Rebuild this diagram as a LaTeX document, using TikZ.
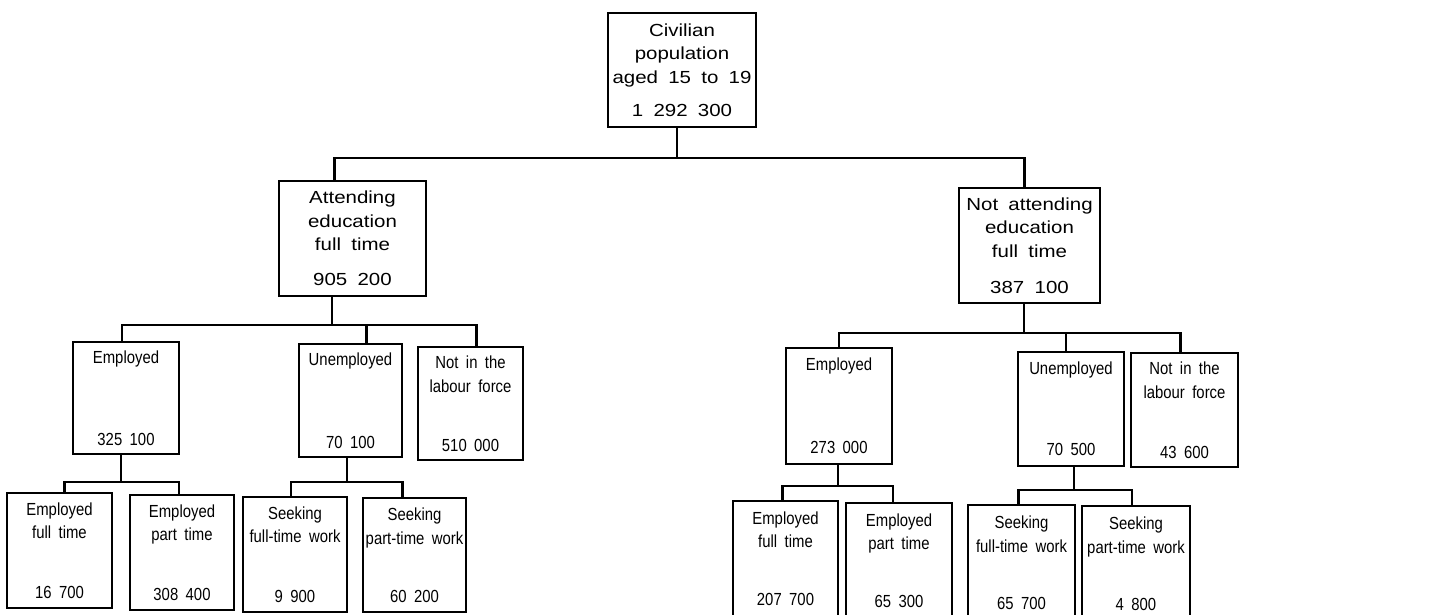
\documentclass[tikz,border=0pt]{standalone}
\usepackage{fontspec}
\usepackage{tikz}
\usetikzlibrary{positioning}
\newfontfamily\smallfont{Liberation Sans}[FakeStretch=0.85,WordSpace=1.8]
\newfontfamily\bigfont{Liberation Sans}[FakeStretch=1.17,WordSpace=1.8]

\begin{document}
\begin{tikzpicture}[x=1pt, y=-1pt,
  box/.style={rectangle, draw=black, line width=1.8pt, align=center,
              minimum width=105pt, minimum height=114pt, inner sep=1pt,
              font=\smallfont\fontsize{17.5}{23.5}\selectfont},
  bbox/.style={box, font=\bigfont\fontsize{17.5}{23.5}\selectfont},
  link/.style={line width=2.2pt}
]
\useasboundingbox[fill=white] (0,0) rectangle (1448,614);

% level 1 and 2
\node[bbox, minimum width=148pt] (pop) at (682,70)
  {Civilian\\population\\aged 15 to 19\\[9.5pt]1 292 300};
\node[bbox, minimum width=147pt, minimum height=115pt] (att) at (352.5,238.5)
  {Attending\\education\\full time\\[11.5pt]905 200};
\node[bbox, minimum width=141pt, minimum height=115pt] (natt) at (1029.5,245.5)
  {Not attending\\education\\full time\\[12.5pt]387 100};

% level 3
\node[box, minimum width=106pt, minimum height=112pt] (emp1) at (126,398)
  {Employed\\[58.5pt]325 100};
\node[box, minimum width=103pt, minimum height=113pt] (unemp1) at (350.5,400.5)
  {Unemployed\\[59.5pt]70 100};
\node[box, minimum height=113pt] (nilf1) at (470.5,403.5)
  {Not in the\\labour force\\[35.5pt]510 000};
\node[box, minimum width=106pt, minimum height=116pt] (emp2) at (839,406)
  {Employed\\[59.5pt]273 000};
\node[box, minimum width=106pt] (unemp2) at (1071,409)
  {Unemployed\\[57.5pt]70 500};
\node[box, minimum width=107pt] (nilf2) at (1184.5,410)
  {Not in the\\labour force\\[36.5pt]43 600};

% level 4
\node[box, minimum height=115pt] (eft1) at (59.5,550.5)
  {Employed\\full time\\[36.5pt]16 700};
\node[box, minimum width=104pt, minimum height=115pt] (ept1) at (182,552.5)
  {Employed\\part time\\[36.5pt]308 400};
\node[box, minimum width=104pt, minimum height=115pt] (sft1) at (295,554.5)
  {Seeking\\full-time work\\[36.5pt]9 900};
\node[box, minimum width=103pt] (spt1) at (414.5,555)
  {Seeking\\part-time work\\[34.5pt]60 200};
\node[box, minimum height=115pt] (eft2) at (785.5,558.5)
  {Employed\\full time\\[34.5pt]207 700};
\node[box, minimum width=106pt, minimum height=115pt] (ept2) at (899,560.5)
  {Employed\\part time\\[34.5pt]65 300};
\node[box, minimum width=107pt, minimum height=115pt] (sft2) at (1021.5,562.5)
  {Seeking\\full-time work\\[33.5pt]65 700};
\node[box, minimum width=108pt, minimum height=115pt] (spt2) at (1136,563.5)
  {Seeking\\part-time work\\[33.5pt]4 800};

% junctions
\coordinate (j0) at (677,158);
\coordinate (j1) at (332,325);
\coordinate (j2) at (1024,333);
\coordinate (j3) at (121,482);
\coordinate (j4) at (347,482);
\coordinate (j5) at (838,486);
\coordinate (j6) at (1074,490);

\draw[link] (pop.south -| j0) -- (j0);
\draw[link] ([xshift=-18pt]att.north) |- (j0) -| ([xshift=-5pt]natt.north);

\draw[link] (att.south -| j1) -- (j1);
\draw[link] ([xshift=-4pt]emp1.north) |- (j1) -| ([xshift=6pt]nilf1.north);
\draw[link] ([xshift=16pt]unemp1.north) -- ([xshift=16pt]unemp1.north |- j1);

\draw[link] (natt.south -| j2) -- (j2);
\draw[link] (emp2.north) |- (j2) -| ([xshift=-4pt]nilf2.north);
\draw[link] ([xshift=-5pt]unemp2.north) -- ([xshift=-5pt]unemp2.north |- j2);

\draw[link] (emp1.south -| j3) -- (j3);
\draw[link] ([xshift=5pt]eft1.north) |- (j3) -| ([xshift=-3pt]ept1.north);
\draw[link] (unemp1.south -| j4) -- (j4);
\draw[link] ([xshift=-4pt]sft1.north) |- (j4) -| ([xshift=-12pt]spt1.north);
\draw[link] (emp2.south -| j5) -- (j5);
\draw[link] ([xshift=-3pt]eft2.north) |- (j5) -| ([xshift=-6pt]ept2.north);
\draw[link] (unemp2.south -| j6) -- (j6);
\draw[link] ([xshift=-3pt]sft2.north) |- (j6) -| ([xshift=-4pt]spt2.north);

\end{tikzpicture}
\end{document}
